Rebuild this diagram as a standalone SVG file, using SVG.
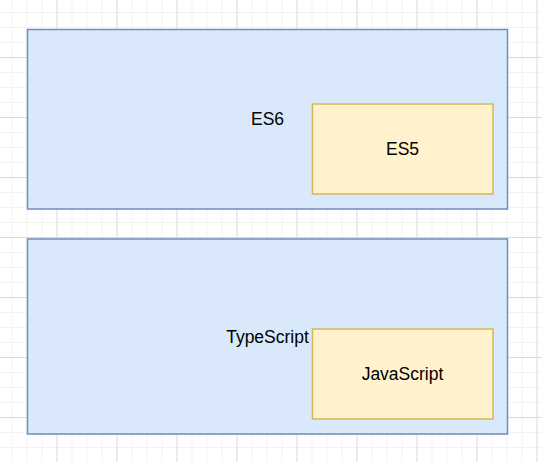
<svg xmlns="http://www.w3.org/2000/svg" width="542" height="462" viewBox="0 0 542 462">
  <style>
    .outer { fill: #dae8fc; stroke: #6c8ebf; stroke-width: 1.5; }
    .inner { fill: #fff2cc; stroke: #d6b656; stroke-width: 1.5; }
    .lbl { font-family: "Liberation Sans", Arial, Helvetica, sans-serif; font-size: 17.5px; fill: #000000; text-anchor: middle; dominant-baseline: central; }
  </style>
  <defs>
    <pattern id="grid" patternUnits="userSpaceOnUse" x="56.5" y="57" width="60" height="60">
      <rect x="0" y="0" width="60" height="60" fill="#ffffff"/>
      <rect x="15" y="0" width="1" height="60" fill="#f2f2f2"/>
      <rect x="30" y="0" width="1" height="60" fill="#f2f2f2"/>
      <rect x="45" y="0" width="1" height="60" fill="#f2f2f2"/>
      <rect x="0" y="15" width="60" height="1" fill="#f2f2f2"/>
      <rect x="0" y="30" width="60" height="1" fill="#f2f2f2"/>
      <rect x="0" y="45" width="60" height="1" fill="#f2f2f2"/>
      <rect x="0" y="0" width="1" height="60" fill="#d9d9d9"/>
      <rect x="0" y="0" width="60" height="1" fill="#d9d9d9"/>
    </pattern>
  </defs>
  <rect x="0" y="0" width="542" height="462" fill="url(#grid)"/>
  <g id="es6">
    <rect class="outer" x="27.5" y="29.5" width="480" height="179.5"/>
    <text class="lbl" x="267.5" y="119">ES6</text>
  </g>
  <g id="es5">
    <rect class="inner" x="312.5" y="104" width="180.5" height="90"/>
    <text class="lbl" x="402.5" y="149">ES5</text>
  </g>
  <g id="typescript">
    <rect class="outer" x="27.5" y="239" width="480" height="195"/>
    <text class="lbl" x="267.5" y="336.5">TypeScript</text>
  </g>
  <g id="javascript">
    <rect class="inner" x="312.5" y="329" width="180.5" height="90"/>
    <text class="lbl" x="402.5" y="374">JavaScript</text>
  </g>
  <g id="connectors"></g>
</svg>
